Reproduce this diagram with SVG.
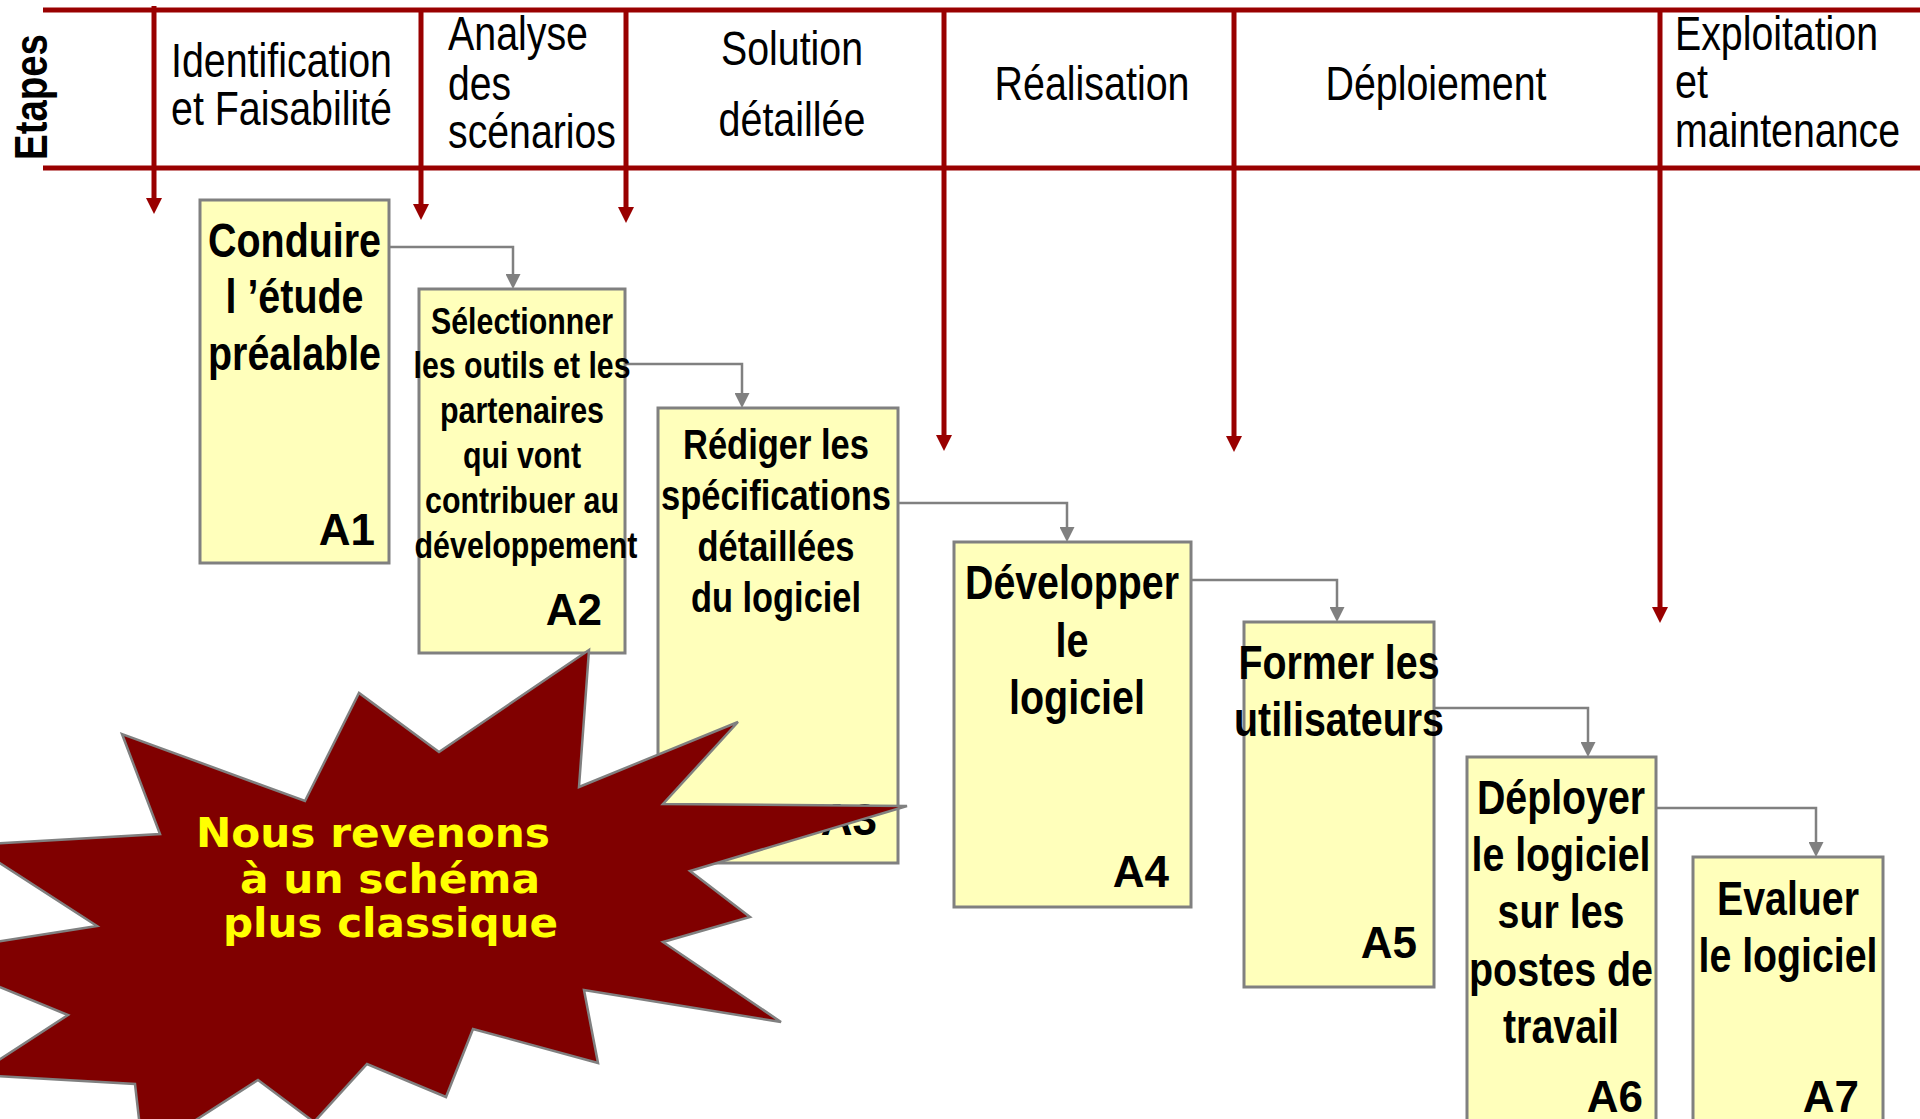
<svg xmlns="http://www.w3.org/2000/svg" width="1920" height="1119" viewBox="0 0 1920 1119">
<style>
.hd{font-family:"Liberation Sans",Arial,sans-serif;font-size:48px;fill:#000}
.bx{font-family:"Liberation Sans",Arial,sans-serif;font-weight:bold;fill:#000;text-anchor:middle}
.lab{font-family:"Liberation Sans",Arial,sans-serif;font-weight:bold;font-size:44px;fill:#000;text-anchor:end}
.box{fill:#FFFFBB;stroke:#808080;stroke-width:3}
.red{stroke:#990000;stroke-width:5;fill:none}
.gray{stroke:#808080;stroke-width:2.5;fill:none}
.star{fill:#800000;stroke:#808080;stroke-width:2.5}
.st{font-family:"DejaVu Sans Condensed","DejaVu Sans",sans-serif;font-weight:bold;font-size:41px;fill:#FFFF00}
</style>
<defs>
<marker id="ra" viewBox="0 0 16 16" markerWidth="16" markerHeight="16" refX="3" refY="8" orient="auto" markerUnits="userSpaceOnUse"><path d="M0,0 L16,8 L0,16 z" fill="#990000"/></marker>
<marker id="ga" viewBox="0 0 15 15" markerWidth="15" markerHeight="15" refX="5" refY="7.5" orient="auto" markerUnits="userSpaceOnUse"><path d="M0,0 L15,7.5 L0,15 z" fill="#808080"/></marker>
</defs>
<rect width="1920" height="1119" fill="#fff"/>
<g id="header">
<path class="red" d="M43,10 H1920 M43,168 H1920"/>
<text class="bx" font-size="47" transform="translate(47,97) rotate(-90)" textLength="126" lengthAdjust="spacingAndGlyphs">Etapes</text>
<text class="hd" x="171" y="77" textLength="221" lengthAdjust="spacingAndGlyphs">Identification</text>
<text class="hd" x="171" y="125" textLength="221" lengthAdjust="spacingAndGlyphs">et Faisabilité</text>
<text class="hd" x="448" y="50" textLength="140" lengthAdjust="spacingAndGlyphs">Analyse</text>
<text class="hd" x="448" y="100" textLength="63" lengthAdjust="spacingAndGlyphs">des</text>
<text class="hd" x="448" y="148" textLength="168" lengthAdjust="spacingAndGlyphs">scénarios</text>
<text class="hd" x="792" y="65" text-anchor="middle" textLength="142" lengthAdjust="spacingAndGlyphs">Solution</text>
<text class="hd" x="792" y="136" text-anchor="middle" textLength="147" lengthAdjust="spacingAndGlyphs">détaillée</text>
<text class="hd" x="1092" y="100" text-anchor="middle" textLength="195" lengthAdjust="spacingAndGlyphs">Réalisation</text>
<text class="hd" x="1436" y="100" text-anchor="middle" textLength="221" lengthAdjust="spacingAndGlyphs">Déploiement</text>
<text class="hd" x="1675" y="50" textLength="203" lengthAdjust="spacingAndGlyphs">Exploitation</text>
<text class="hd" x="1675" y="98" textLength="33" lengthAdjust="spacingAndGlyphs">et</text>
<text class="hd" x="1675" y="147" textLength="225" lengthAdjust="spacingAndGlyphs">maintenance</text>
</g>
<g id="phases">
<path class="red" marker-end="url(#ra)" d="M154,6 V201"/>
<path class="red" marker-end="url(#ra)" d="M421,8 V207"/>
<path class="red" marker-end="url(#ra)" d="M626,8 V210"/>
<path class="red" marker-end="url(#ra)" d="M944,8 V438"/>
<path class="red" marker-end="url(#ra)" d="M1234,8 V439"/>
<path class="red" marker-end="url(#ra)" d="M1660,8 V610"/>
</g>
<g id="connectors">
<path class="gray" marker-end="url(#ga)" d="M389,247 H513 V279"/>
<path class="gray" marker-end="url(#ga)" d="M625,364 H742 V398"/>
<path class="gray" marker-end="url(#ga)" d="M898,503 H1067 V532"/>
<path class="gray" marker-end="url(#ga)" d="M1191,580 H1337 V612"/>
<path class="gray" marker-end="url(#ga)" d="M1434,708 H1588 V747"/>
<path class="gray" marker-end="url(#ga)" d="M1656,808 H1816 V847"/>
</g>
<g id="A1">
<rect class="box" x="200" y="200" width="189" height="363"/>
<text class="bx" font-size="48" x="294.5" y="257" textLength="173" lengthAdjust="spacingAndGlyphs">Conduire</text>
<text class="bx" font-size="48" x="294.5" y="313" textLength="138" lengthAdjust="spacingAndGlyphs">l ’étude</text>
<text class="bx" font-size="48" x="294.5" y="370" textLength="173" lengthAdjust="spacingAndGlyphs">préalable</text>
<text class="lab" x="375" y="545">A1</text>
</g>
<g id="A2">
<rect class="box" x="419" y="289" width="206" height="364"/>
<text class="bx" font-size="37" x="522" y="334" textLength="182" lengthAdjust="spacingAndGlyphs">Sélectionner</text>
<text class="bx" font-size="37" x="522" y="378" textLength="217" lengthAdjust="spacingAndGlyphs">les outils et les</text>
<text class="bx" font-size="37" x="522" y="423" textLength="164" lengthAdjust="spacingAndGlyphs">partenaires</text>
<text class="bx" font-size="37" x="522" y="468" textLength="118" lengthAdjust="spacingAndGlyphs">qui vont</text>
<text class="bx" font-size="37" x="522" y="513" textLength="194" lengthAdjust="spacingAndGlyphs">contribuer au</text>
<text class="bx" font-size="37" x="526" y="558" textLength="223" lengthAdjust="spacingAndGlyphs">développement</text>
<text class="lab" x="602" y="625">A2</text>
</g>
<g id="A3">
<rect class="box" x="658" y="408" width="240" height="455"/>
<text class="bx" font-size="42" x="776" y="459" textLength="186" lengthAdjust="spacingAndGlyphs">Rédiger les</text>
<text class="bx" font-size="42" x="776" y="510" textLength="230" lengthAdjust="spacingAndGlyphs">spécifications</text>
<text class="bx" font-size="42" x="776" y="561" textLength="157" lengthAdjust="spacingAndGlyphs">détaillées</text>
<text class="bx" font-size="42" x="776" y="612" textLength="170" lengthAdjust="spacingAndGlyphs">du logiciel</text>
<text class="lab" x="877" y="835">A3</text>
</g>
<g id="A4">
<rect class="box" x="954" y="542" width="237" height="365"/>
<text class="bx" font-size="48" x="1072" y="599" textLength="214" lengthAdjust="spacingAndGlyphs">Développer</text>
<text class="bx" font-size="48" x="1072" y="657" textLength="33" lengthAdjust="spacingAndGlyphs">le</text>
<text class="bx" font-size="48" x="1077" y="714" textLength="136" lengthAdjust="spacingAndGlyphs">logiciel</text>
<text class="lab" x="1169" y="887">A4</text>
</g>
<g id="A5">
<rect class="box" x="1244" y="622" width="190" height="365"/>
<text class="bx" font-size="48" x="1339" y="679" textLength="201" lengthAdjust="spacingAndGlyphs">Former les</text>
<text class="bx" font-size="48" x="1339" y="736" textLength="210" lengthAdjust="spacingAndGlyphs">utilisateurs</text>
<text class="lab" x="1417" y="958">A5</text>
</g>
<g id="A6">
<rect class="box" x="1467" y="757" width="189" height="380"/>
<text class="bx" font-size="48" x="1561" y="814" textLength="168" lengthAdjust="spacingAndGlyphs">Déployer</text>
<text class="bx" font-size="48" x="1561" y="871" textLength="179" lengthAdjust="spacingAndGlyphs">le logiciel</text>
<text class="bx" font-size="48" x="1561" y="928" textLength="127" lengthAdjust="spacingAndGlyphs">sur les</text>
<text class="bx" font-size="48" x="1561" y="986" textLength="184" lengthAdjust="spacingAndGlyphs">postes de</text>
<text class="bx" font-size="48" x="1561" y="1043" textLength="116" lengthAdjust="spacingAndGlyphs">travail</text>
<text class="lab" x="1643" y="1112">A6</text>
</g>
<g id="A7">
<rect class="box" x="1693" y="857" width="190" height="280"/>
<text class="bx" font-size="48" x="1788" y="915" textLength="142" lengthAdjust="spacingAndGlyphs">Evaluer</text>
<text class="bx" font-size="48" x="1788" y="972" textLength="179" lengthAdjust="spacingAndGlyphs">le logiciel</text>
<text class="lab" x="1859" y="1112">A7</text>
</g>
<g id="starburst">
<polygon class="star" points="589,650 439,752 359,693 305,801 122,734 160,834 -28,845 97,926 -81,954 68,1015 -24,1075 135,1084 143,1154 258,1080 314,1122 367,1064 446,1097 473,1029 598,1063 584,990 781,1022 663,942 750,917 690,871 907,806 663,804 738,722 579,787"/>
<text class="st" x="196" y="847" textLength="354" lengthAdjust="spacingAndGlyphs">Nous revenons</text>
<text class="st" x="240" y="893" textLength="300" lengthAdjust="spacingAndGlyphs">à un schéma</text>
<text class="st" x="223" y="937" textLength="335" lengthAdjust="spacingAndGlyphs">plus classique</text>
</g>
</svg>
